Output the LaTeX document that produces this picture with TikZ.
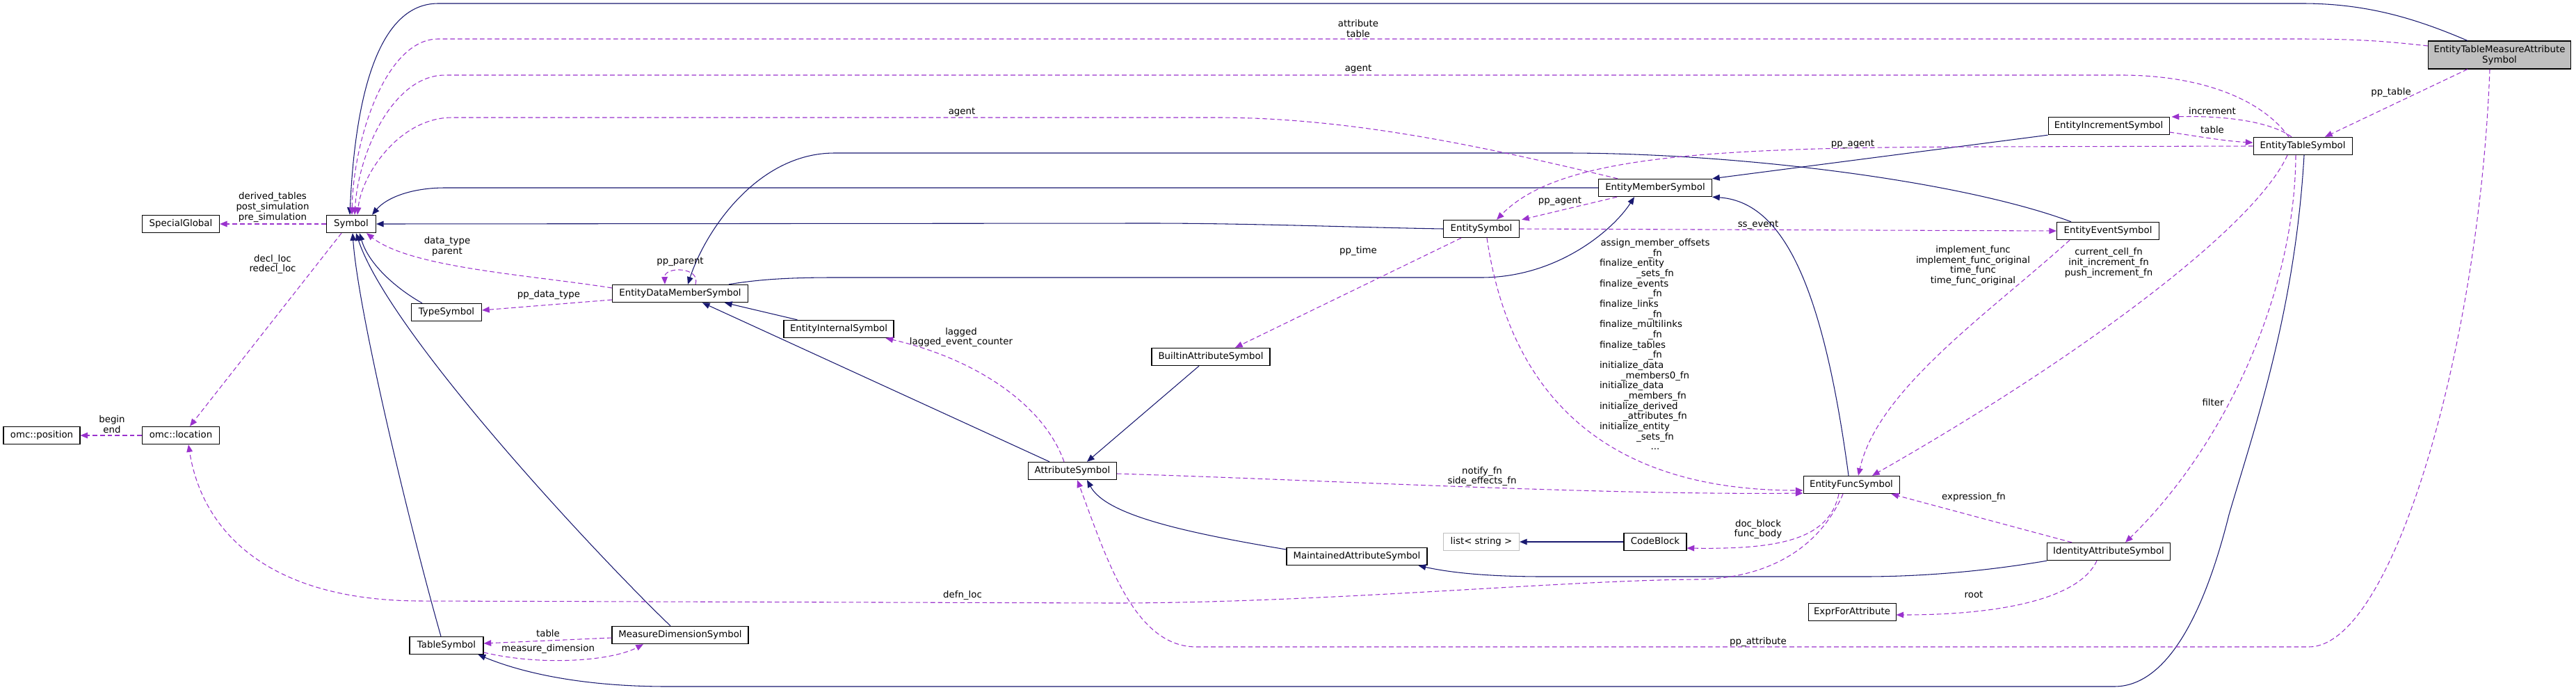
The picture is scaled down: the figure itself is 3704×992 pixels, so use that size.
\documentclass[tikz,border=0pt]{standalone}
\usepackage{fontspec}
\setmainfont{DejaVu Sans}
\usetikzlibrary{arrows.meta,calc}
\definecolor{navy}{HTML}{191970}
\definecolor{orch}{HTML}{9A32CD}
\definecolor{shade}{HTML}{BFBFBF}
\tikzset{
  cls/.style={draw=black,fill=white,line width=0.8pt,minimum height=19pt,inner sep=0pt,text height=7.5pt,text depth=2.2pt},
  wd/.style={minimum width=#1*0.75pt},
  inhedge/.style={draw=navy,line width=0.8pt,-{Triangle[length=8pt,width=6.5pt]}},
  useedge/.style={draw=orch,line width=0.8pt,dash pattern=on 5pt off 3pt,-{Triangle[length=8pt,width=6.5pt]}},
  lbl/.style={inner sep=0pt,align=center},
}
\begin{document}
\begin{tikzpicture}[x=0.75pt,y=-0.75pt,font=\fontsize{10}{11}\selectfont]
\useasboundingbox (0,0) rectangle (3704,992);
% classes
\node[cls,wd=110] (omcpos) at (60,626) {omc::position};
\node[cls,wd=111] (omcloc) at (260,626) {omc::location};
\node[cls,wd=111] (special) at (260,322) {SpecialGlobal};
\node[cls,wd=71] (symbol) at (505,322) {Symbol};
\node[cls,wd=101] (typesym) at (642,449) {TypeSymbol};
\node[cls,wd=106] (tablesym) at (642,928) {TableSymbol};
\node[cls,wd=195] (edms) at (978,422) {EntityDataMemberSymbol};
\node[cls,wd=196] (mds) at (978,913) {MeasureDimensionSymbol};
\node[cls,wd=158] (eis) at (1206,473) {EntityInternalSymbol};
\node[cls,wd=127] (attr) at (1542,677) {AttributeSymbol};
\node[cls,wd=170] (bas) at (1741,513) {BuiltinAttributeSymbol};
\node[cls,wd=202] (mas) at (1951,800) {MaintainedAttributeSymbol};
\node[cls,wd=109] (esym) at (2130,329) {EntitySymbol};
\node[cls,wd=109,draw=shade] (liststr) at (2130,779) {list< string >};
\node[cls,wd=163] (ems) at (2380,270) {EntityMemberSymbol};
\node[cls,wd=90] (codeblock) at (2380,779) {CodeBlock};
\node[cls,wd=138] (efs) at (2662,697) {EntityFuncSymbol};
\node[cls,wd=126] (efa) at (2663,880) {ExprForAttribute};
\node[cls,wd=174] (eincs) at (3032,181) {EntityIncrementSymbol};
\node[cls,wd=147] (eevs) at (3031,332) {EntityEventSymbol};
\node[cls,wd=177] (ias) at (3032,793) {IdentityAttributeSymbol};
\node[cls,wd=142] (ets) at (3311,210) {EntityTableSymbol};
\node[draw=black,fill=shade,line width=0.8pt,inner sep=0pt,minimum width=205*0.75pt,minimum height=30pt,align=center] (etmas) at (3594,79) {EntityTableMeasureAttribute\\Symbol};

% inheritance (navy)
\draw[inhedge] ($(etmas.north)+(-46,0)$) .. controls (3470,25) and (3400,5) .. (3310,5) -- (630,5) .. controls (540,5) and (510,150) .. ($(symbol.north)+(-2,0)$);
\draw[inhedge] (ems.west) -- (640,270) .. controls (590,270) and (555,285) .. ($(symbol.north east)+(-6,0)$);
\draw[inhedge] (esym.west) .. controls (1950,327) and (1800,321) .. (1650,321) -- (symbol.east);
\draw[inhedge] ($(eevs.north)+(-53,0)$) .. controls (2820,260) and (2500,220) .. (2250,220) -- (1200,220) .. controls (1090,220) and (1015,330) .. ($(edms.north)+(11,0)$);
\draw[inhedge] ($(edms.north)+(70,0)$) .. controls (1090,402) and (1130,399) .. (1200,399) -- (2130,399) .. controls (2240,399) and (2320,330) .. ($(ems.south)+(-30,0)$);
\draw[inhedge] (eincs.south west) -- (ems.north east);
\draw[inhedge] ($(efs.north)+(-4,0)$) .. controls (2620,400) and (2560,290) .. (ems.south east);
\draw[inhedge] ($(typesym.north)+(-35,0)$) .. controls (570,415) and (530,380) .. ($(symbol.south)+(12,0)$);
\draw[inhedge] ($(tablesym.north)+(-8,0)$) .. controls (590,760) and (515,450) .. ($(symbol.south)+(2,0)$);
\draw[inhedge] ($(mds.north)+(-14,0)$) .. controls (860,800) and (560,480) .. ($(symbol.south)+(7,0)$);
\draw[inhedge] ($(eis.north west)+(20,0)$) -- ($(edms.south)+(64,0)$);
\draw[inhedge] ($(attr.north)+(-33,0)$) -- ($(edms.south)+(32,0)$);
\draw[inhedge] ($(bas.south)+(-17,0)$) -- ($(attr.north)+(21,0)$);
\draw[inhedge] ($(mas.west)+(0,-10)$) .. controls (1700,765) and (1590,740) .. ($(attr.south)+(21,0)$);
\draw[inhedge] (ias.south west) .. controls (2850,822) and (2760,829) .. (2680,829) -- (2220,829) .. controls (2130,829) and (2080,822) .. ($(mas.south east)+(-13,0)$);
\draw[inhedge] ($(ets.south)+(2,0)$) .. controls (3300,450) and (3240,620) .. (3205,740) .. controls (3180,840) and (3130,987) .. (3040,987) -- (960,987) .. controls (830,987) and (745,965) .. ($(tablesym.south east)+(-8,0)$);
\draw[inhedge] (codeblock.west) -- (liststr.east);

% usage (purple dashed)
\draw[useedge] (symbol.west) -- (special.east);
\draw[useedge] ($(symbol.south)+(-14,0)$) -- ($(omcloc.north)+(13,0)$);
\draw[useedge] (omcloc.west) -- (omcpos.east);
\draw[useedge] ($(edms.west)+(0,-8)$) .. controls (760,395) and (590,385) .. ($(symbol.south east)+(-14,0)$);
\draw[useedge] ($(edms.west)+(0,9)$) -- ($(typesym.east)+(0,-3)$);
\draw[useedge] ($(edms.north)+(22,0)$) .. controls (1008,383) and (955,383) .. ($(edms.north)+(-22,0)$);
\draw[useedge] ($(etmas.west)+(0,-13)$) .. controls (3420,58) and (3380,56) .. (3300,56) -- (630,56) .. controls (555,56) and (508,200) .. ($(symbol.north)+(1,0)$);
\draw[useedge] ($(ets.north)+(-20,0)$) .. controls (3250,140) and (3160,108) .. (3050,108) -- (640,108) .. controls (565,108) and (515,220) .. ($(symbol.north)+(5,0)$);
\draw[useedge] ($(ems.north)+(-54,0)$) .. controls (2150,215) and (1950,169) .. (1750,169) -- (650,169) .. controls (575,169) and (520,250) .. ($(symbol.north)+(9,0)$);
\draw[useedge] ($(etmas.south)+(-46,0)$) -- ($(ets.north)+(32,0)$);
\draw[useedge] ($(ets.north)+(-16,0)$) .. controls (3265,175) and (3200,166) .. ($(eincs.east)+(3,-13)$);
\draw[useedge] ($(eincs.east)+(0,9)$) .. controls (3160,196) and (3200,203) .. ($(ets.west)+(0,-5)$);
\draw[useedge] (ets.west) -- (2850,211) .. controls (2450,212) and (2240,225) .. ($(esym.north)+(22,0)$);
\draw[useedge] ($(ems.south west)+(27,0)$) -- ($(esym.north east)+(3,0)$);
\draw[useedge] (esym.east) -- (eevs.west);
\draw[useedge] ($(esym.south west)+(26,0)$) -- ($(bas.north)+(35,0)$);
\draw[useedge] ($(esym.south)+(8,0)$) .. controls (2170,560) and (2300,705) .. ($(efs.west)+(0,8)$);
\draw[useedge] ($(eevs.south)+(-55,0)$) .. controls (2860,450) and (2700,560) .. ($(efs.north)+(10,0)$);
\draw[useedge] ($(ets.south)+(-22,0)$) .. controls (3240,330) and (2980,520) .. ($(efs.north)+(30,0)$);
\draw[useedge] ($(attr.east)+(0,4)$) .. controls (1900,690) and (2300,712) .. ($(efs.west)+(0,12)$);
\draw[useedge] ($(attr.north)+(-12,0)$) .. controls (1500,580) and (1400,515) .. ($(eis.south east)+(-12,0)$);
\draw[useedge] ($(efs.south)+(-18,0)$) .. controls (2630,775) and (2560,790) .. ($(codeblock.east)+(0,9)$);
\draw[useedge] ($(efs.south)+(-12,0)$) .. controls (2615,790) and (2540,832) .. (2440,833) .. controls (2250,834) and (1900,867) .. (1600,867) -- (600,864) .. controls (380,862) and (290,760) .. ($(omcloc.south)+(11,0)$);
\draw[useedge] ($(ias.north)+(-53,0)$) -- ($(efs.south east)+(-12,0)$);
\draw[useedge] ($(ias.south)+(-17,0)$) .. controls (2990,860) and (2880,884) .. ($(efa.east)+(0,4)$);
\draw[useedge] ($(ets.south)+(-10,0)$) .. controls (3300,420) and (3200,640) .. ($(ias.north)+(24,0)$);
\draw[useedge] ($(etmas.south)+(-14,0)$) .. controls (3565,500) and (3440,930) .. (3320,930) -- (1720,930) .. controls (1630,930) and (1590,800) .. ($(attr.south)+(7,0)$);
\draw[useedge] ($(mds.west)+(0,4)$) -- ($(tablesym.east)+(0,-3)$);
\draw[useedge] ($(tablesym.east)+(0,10)$) .. controls (780,958) and (880,950) .. ($(mds.south)+(-53,0)$);

% labels
\node[lbl] (lderived) at (392,298) {derived\_tables\\post\_simulation\\pre\_simulation};
\node[lbl] (ldecl) at (392,380) {decl\_loc\\redecl\_loc};
\node[lbl] (lbegin) at (161,610) {begin\\end};
\node[lbl] (ldatatype) at (643,354) {data\_type\\parent};
\node[lbl] (lppdatatype) at (789,424) {pp\_data\_type};
\node[lbl] (lppparent) at (978,376) {pp\_parent};
\node[lbl] (lattrtable) at (1953,41) {attribute\\table};
\node[lbl] (lagentA) at (1953,99) {agent};
\node[lbl] (lagentB) at (1383,161) {agent};
\node[lbl] (lpptable) at (3438,133) {pp\_table};
\node[lbl] (lincrement) at (3181,160) {increment};
\node[lbl] (ltableA) at (3181,187) {table};
\node[lbl] (lppagentA) at (2664,207) {pp\_agent};
\node[lbl] (lppagentB) at (2243,289) {pp\_agent};
\node[lbl] (lssevent) at (2528,323) {ss\_event};
\node[lbl] (lpptime) at (1953,361) {pp\_time};
\node[lbl,text width=120pt] (lbig) at (2380,495) {assign\_member\_offsets\\\_fn\\\makebox[120pt][l]{finalize\_entity}\\\_sets\_fn\\\makebox[120pt][l]{finalize\_events}\\\_fn\\\makebox[120pt][l]{finalize\_links}\\\_fn\\\makebox[120pt][l]{finalize\_multilinks}\\\_fn\\\makebox[120pt][l]{finalize\_tables}\\\_fn\\\makebox[120pt][l]{initialize\_data}\\\_members0\_fn\\\makebox[120pt][l]{initialize\_data}\\\_members\_fn\\\makebox[120pt][l]{initialize\_derived}\\\_attributes\_fn\\\makebox[120pt][l]{initialize\_entity}\\\_sets\_fn\\...};
\node[lbl] (limpl) at (2837,382) {implement\_func\\implement\_func\_original\\time\_func\\time\_func\_original};
\node[lbl] (lcurcell) at (3032,378) {current\_cell\_fn\\init\_increment\_fn\\push\_increment\_fn};
\node[lbl] (lnotify) at (2131,685) {notify\_fn\\side\_effects\_fn};
\node[lbl] (llagged) at (1382,485) {lagged\\lagged\_event\_counter};
\node[lbl] (ldocblock) at (2528,761) {doc\_block\\func\_body};
\node[lbl] (ldefnloc) at (1384,856) {defn\_loc};
\node[lbl] (lexpr) at (2838,715) {expression\_fn};
\node[lbl] (lroot) at (2838,855) {root};
\node[lbl] (lfilter) at (3182,579) {filter};
\node[lbl] (lppattr) at (2528,923) {pp\_attribute};
\node[lbl] (ltableB) at (788,911) {table};
\node[lbl] (lmeasdim) at (788,933) {measure\_dimension};
\end{tikzpicture}
\end{document}
